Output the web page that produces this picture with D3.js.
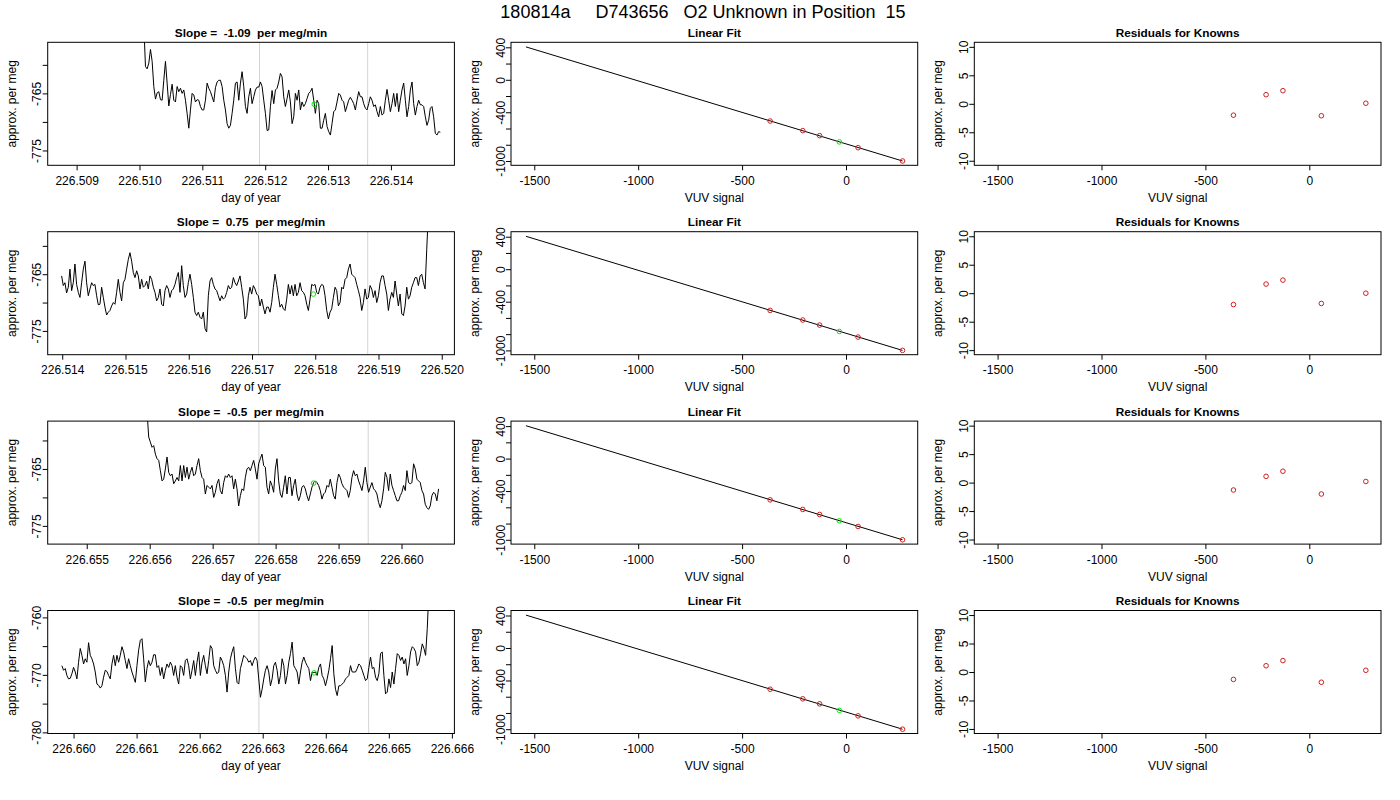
<!DOCTYPE html>
<html>
<head>
<meta charset="utf-8">
<script src="https://cdn.jsdelivr.net/npm/d3@7"></script>
<style>
  body { margin: 0; background: #fff; }
  text { font-family: "Liberation Sans", Arial, Helvetica, sans-serif; white-space: pre; }
</style>
</head>
<body>
<svg id="fig" width="1400" height="800"></svg>
<script>
const mainTitle = "180814a     D743656   O2 Unknown in Position  15";
const slopes = ["-1.09", "0.75", "-0.5", "-0.5"];

// time series (per meg) sampled every dt days from t0
const ts1 = [-753, -760.3, -760.7, -759.7, -757.3, -759.4, -763.8, -766.0, -764.9, -764.7,
  -766.1, -766.2, -762.7, -759.4, -763.2, -767.2, -765.2, -763.4, -766.2, -766.5,
  -763.8, -764.7, -764.1, -765.0, -764.4, -766.2, -768.5, -771.1, -767.9, -765.0,
  -765.3, -766.5, -766.1, -766.2, -767.3, -767.9, -767.9, -766.2, -763.2, -764.1,
  -764.7, -765.6, -766.5, -764.0, -763.0, -762.7, -762.7, -763.8, -766.2, -767.9,
  -770.3, -771.1, -770.6, -768.5, -766.2, -763.2, -763.0, -766.2, -763.2, -761.2,
  -763.8, -767.3, -768.5, -765.6, -764.1, -766.8, -765.6, -764.4, -763.9, -763.9,
  -763.0, -763.8, -766.2, -768.5, -771.5, -771.4, -767.3, -764.5, -766.8, -764.4,
  -764.1, -763.0, -761.5, -762.1, -765.6, -767.3, -765.9, -764.4, -766.5, -770.3,
  -769.1, -765.0, -766.2, -764.4, -767.9, -766.5, -767.3, -766.8, -765.9, -765.0,
  -764.7, -764.1, -766.2, -768.5, -766.2, -766.8, -771.1, -771.1, -769.7, -768.5,
  -770.8, -771.7, -772.3, -770.3, -768.2, -767.9, -766.5, -765.0, -765.3, -766.2,
  -766.5, -768.2, -767.2, -766.2, -765.7, -766.2, -766.8, -767.9, -766.2, -764.7,
  -765.6, -765.6, -766.8, -767.6, -767.9, -766.8, -765.6, -766.2, -767.3, -767.0,
  -768.2, -769.1, -767.3, -768.8, -768.5, -766.2, -764.3, -766.2, -768.2, -766.8,
  -765.0, -767.3, -765.0, -768.2, -766.2, -764.4, -763.2, -766.2, -769.1, -767.3,
  -764.4, -763.0, -766.8, -768.8, -767.3, -766.2, -767.0, -767.0, -767.3, -769.1,
  -770.6, -769.7, -767.6, -767.3, -769.1, -772.0, -772.3, -771.7, -771.8];

const ts2 = [-765.3, -767.0, -766.5, -768.3, -767.3, -764.1, -767.9, -766.5, -763.2, -766.8,
  -768.2, -769.1, -766.5, -764.1, -762.7, -766.5, -768.8, -767.6, -766.5, -767.0,
  -766.8, -768.8, -770.4, -770.3, -767.3, -769.1, -770.8, -772.2, -771.7, -771.4,
  -770.6, -770.0, -770.3, -768.2, -765.9, -768.2, -769.7, -766.5, -765.9, -764.1,
  -762.4, -761.2, -762.7, -764.7, -765.6, -764.4, -765.3, -767.6, -765.9, -767.3,
  -767.0, -766.2, -767.6, -765.3, -765.9, -767.3, -768.2, -769.7, -769.1, -767.6,
  -770.3, -770.6, -767.9, -767.0, -767.6, -769.1, -767.9, -767.6, -766.8, -765.6,
  -764.7, -768.2, -763.5, -767.0, -769.1, -768.5, -766.5, -765.0, -766.8, -769.1,
  -771.7, -772.3, -771.7, -772.6, -772.9, -771.7, -774.6, -775.2, -768.8, -766.2,
  -765.6, -766.8, -767.6, -767.9, -768.8, -769.7, -768.8, -769.4, -769.1, -768.2,
  -767.0, -767.6, -767.3, -765.6, -766.5, -767.0, -766.2, -765.3, -767.3, -769.4,
  -772.9, -772.3, -768.8, -767.3, -768.5, -767.0, -767.6, -768.5, -768.8, -770.6,
  -769.4, -770.8, -772.0, -770.8, -770.8, -771.7, -770.0, -767.3, -765.0, -766.8,
  -768.8, -770.8, -770.3, -771.1, -771.4, -769.4, -766.8, -768.5, -767.0, -768.8,
  -766.8, -768.8, -768.2, -766.5, -767.9, -768.2, -768.8, -770.3, -771.4, -769.4,
  -766.8, -767.0, -766.8, -768.2, -768.5, -767.3, -766.8, -767.0, -768.8, -771.4,
  -772.9, -771.7, -771.1, -769.1, -767.3, -767.9, -770.6, -770.0, -767.3, -767.6,
  -765.9, -765.6, -764.1, -763.2, -765.0, -765.3, -765.6, -766.8, -767.9, -769.1,
  -771.4, -770.0, -767.6, -769.4, -769.1, -767.0, -767.6, -769.1, -767.9, -770.0,
  -768.8, -766.5, -765.3, -765.3, -767.0, -768.5, -771.4, -769.4, -768.2, -769.1,
  -766.2, -768.5, -770.6, -768.5, -772.0, -772.3, -770.6, -767.3, -769.4, -768.8,
  -767.3, -766.5, -765.6, -765.6, -767.0, -765.3, -765.0, -766.5, -767.6, -760.6,
  -754];

const ts3 = [-755, -759.4, -760.3, -761.2, -760.9, -762.4, -763.2, -763.5, -765.3, -767.1,
  -766.8, -765.0, -762.9, -765.6, -766.2, -765.9, -767.6, -767.1, -766.5, -767.1,
  -764.4, -767.1, -764.4, -766.5, -764.7, -766.8, -765.6, -764.7, -766.2, -765.9,
  -764.4, -763.2, -765.3, -766.5, -766.8, -769.4, -767.9, -768.2, -768.5, -767.9,
  -770.0, -769.1, -767.6, -766.8, -768.8, -769.4, -767.4, -766.2, -766.5, -765.9,
  -766.5, -766.2, -768.5, -766.8, -768.5, -771.5, -769.7, -768.5, -768.8, -766.5,
  -765.0, -764.7, -765.3, -764.4, -763.5, -765.0, -766.8, -764.1, -763.2, -762.4,
  -764.4, -764.7, -768.2, -769.4, -767.1, -767.9, -769.1, -765.0, -763.2, -767.1,
  -769.4, -770.0, -768.2, -766.2, -769.4, -766.5, -766.5, -769.7, -767.9, -766.8,
  -769.4, -770.6, -769.7, -768.2, -767.9, -768.5, -769.7, -770.6, -769.4, -768.2,
  -767.4, -767.1, -767.4, -767.9, -768.8, -770.3, -769.4, -769.1, -767.9, -768.2,
  -766.8, -768.2, -769.7, -770.3, -767.4, -765.9, -766.5, -767.6, -768.2, -768.5,
  -768.8, -770.0, -768.8, -766.5, -765.3, -766.2, -765.9, -767.1, -767.9, -768.8,
  -767.1, -764.7, -767.4, -769.1, -768.2, -767.4, -768.5, -768.8, -769.4, -770.9,
  -771.8, -770.6, -768.5, -765.6, -766.5, -768.8, -765.9, -767.9, -768.8, -769.7,
  -770.6, -770.6, -769.7, -769.1, -767.9, -768.8, -765.3, -767.4, -767.6, -767.4,
  -764.1, -765.0, -766.8, -767.1, -767.4, -768.8, -769.4, -771.2, -771.8, -772.1,
  -771.5, -769.7, -769.1, -769.4, -770.6, -768.5];

const ts4 = [-768.4, -769.2, -768.9, -770.1, -770.7, -770.6, -769.8, -768.7, -769.5, -770.7,
  -767.8, -765.4, -766.6, -768.1, -767.2, -767.8, -764.4, -766.6, -767.2, -768.1,
  -769.5, -771.6, -771.8, -772.3, -771.9, -770.4, -769.2, -769.4, -770.1, -770.7,
  -768.1, -766.6, -768.4, -766.6, -767.8, -766.6, -765.1, -766.0, -767.5, -768.9,
  -767.2, -768.4, -769.5, -770.4, -771.3, -768.4, -765.7, -764.0, -763.7, -767.2,
  -771.2, -768.9, -767.5, -768.4, -767.8, -766.5, -766.5, -768.7, -768.4, -770.1,
  -768.7, -770.7, -769.2, -768.1, -768.7, -767.8, -768.4, -770.1, -768.4, -770.4,
  -771.6, -768.4, -768.7, -770.1, -767.5, -767.2, -768.4, -770.7, -769.2, -767.5,
  -770.1, -767.8, -766.0, -770.1, -767.8, -766.6, -768.4, -769.8, -767.5, -764.9,
  -765.4, -768.4, -769.2, -769.8, -769.5, -766.9, -767.5, -768.4, -770.1, -773.0,
  -769.5, -767.2, -766.0, -765.1, -768.9, -771.3, -771.6, -768.9, -767.8, -766.6,
  -766.9, -767.2, -767.8, -767.5, -768.4, -767.5, -766.9, -767.5, -770.7, -773.9,
  -772.5, -770.7, -769.2, -768.4, -769.5, -771.9, -770.7, -768.4, -767.8, -769.2,
  -771.6, -770.1, -767.2, -768.4, -771.6, -770.1, -767.8, -766.3, -764.3, -768.4,
  -768.9, -769.5, -771.6, -769.5, -767.8, -766.9, -767.8, -768.4, -768.9, -771.0,
  -769.5, -769.6, -769.5, -770.1, -768.7, -768.1, -770.1, -770.7, -771.9, -770.7,
  -769.2, -767.2, -764.9, -769.8, -772.5, -773.6, -771.9, -771.9, -771.6, -771.3,
  -770.7, -770.4, -770.1, -768.4, -769.5, -769.5, -769.5, -768.9, -768.1, -768.4,
  -769.2, -770.1, -771.0, -770.7, -768.7, -766.9, -768.9, -768.7, -770.4, -771.0,
  -769.8, -766.3, -766.0, -770.1, -773.3, -773.0, -770.7, -772.2, -769.5, -771.6,
  -768.9, -766.3, -766.6, -767.5, -766.9, -768.1, -767.2, -770.1, -768.4, -766.0,
  -765.1, -765.4, -766.0, -768.4, -767.8, -766.3, -764.6, -765.4, -766.6, -761.9,
  -755];

const tsSeries = [ts1, ts2, ts3, ts4];
const tsStart = [226.510069, 226.51399, 226.655958, 226.659815];
const tsStep = [0.0000265, 0.00002636, 0.00002646, 0.00002646];

// averaging window (gray lines) and the unknown's mean (green point)
const winLo = [226.51191, 226.517105, 226.657735, 226.66294];
const winHi = [226.51363, 226.51883, 226.659471, 226.66468];
const meanT = [226.51278, 226.51797, 226.658603, 226.663815];
const meanV = [-766.9, -768.5, -767.5, -769.65];

// axis ranges and ticks of the time panels
const tsXDom = [[226.50854, 226.51501], [226.51377, 226.52020], [226.65438, 226.66084], [226.65959, 226.66604]];
const tsYDom = [[-777.6, -756.05], [-779.2, -757.5], [-778.2, -756.6], [-780.2, -758.8]];
const tsXTicks = [
  [226.509, 226.510, 226.511, 226.512, 226.513, 226.514],
  [226.514, 226.515, 226.516, 226.517, 226.518, 226.519, 226.520],
  [226.655, 226.656, 226.657, 226.658, 226.659, 226.660],
  [226.660, 226.661, 226.662, 226.663, 226.664, 226.665, 226.666]];
const tsYTicks = [[-775, -770, -765, -760], [-775, -770, -765, -760], [-775, -770, -765, -760], [-780, -775, -770, -765, -760]];
const tsYLabels = [[-775, -765], [-775, -765], [-775, -765], [-780, -770, -760]];

// linear fit of the knowns
const knownX = [-365, -208, -127, 58, 272];
const knownY = [-508, -626, -688, -836, -1000];
const fitLineX = [-1540, 272];
const fitLineY = [405, -1000];
const unknownX = [-32, -32, -32, -32];
const unknownY = [-765, -767, -766, -768];
const fitXDom = [-1612, 345];
const fitYDom = [-1053, 461.7];
const fitXTicks = [-1500, -1000, -500, 0];
const fitYTicks = [-1000, -800, -600, -400, -200, 0, 200, 400];
const fitYLabels = [-1000, -400, 0, 400];

// residuals of the knowns, one row per run
const residuals = [
  [-2.0, 1.6, 2.3, -2.1, 0.1],
  [-2.0, 1.6, 2.3, -1.8, 0.0],
  [-1.3, 1.1, 2.0, -2.0, 0.2],
  [-1.3, 1.1, 2.0, -1.8, 0.3]];
const resYDom = [-10.8, 10.8];
const resYTicks = [-10, -5, 0, 5, 10];

const svg = d3.select("#fig");
svg.append("rect").attr("width", 1400).attr("height", 800).attr("fill", "#fff");

const colLeft = [47.7, 511, 974.3], boxW = 406.7, boxH = 123;
const rowTop = [42.3, 231.7, 421.1, 610.5];
const FS = "12px";

// plain hyphen minus, as in the original
const intFmt = d => String(d);
const dayFmt = d => d.toFixed(3);

svg.append("text")
  .attr("x", 703).attr("y", 17.5)
  .attr("text-anchor", "middle")
  .style("font-size", "18px")
  .text(mainTitle);

let clipId = 0;

// box, axes and labels of one panel
function panel(r, c, x, y, opt) {
  const g = svg.append("g").attr("transform", `translate(${colLeft[c]},${rowTop[r]})`);
  const id = "clip" + (clipId++);
  g.append("clipPath").attr("id", id)
    .append("rect").attr("width", boxW).attr("height", boxH);
  const plot = g.append("g").attr("clip-path", `url(#${id})`);

  const xa = g.append("g")
    .attr("transform", `translate(0,${boxH})`)
    .call(d3.axisBottom(x).tickValues(opt.xTicks).tickFormat(opt.xFmt).tickSize(5).tickPadding(6));
  xa.select(".domain").remove();
  xa.attr("font-family", null).attr("font-size", null);
  xa.selectAll("text").style("font-size", FS).attr("fill", "#000");

  const ya = g.append("g")
    .call(d3.axisLeft(y).tickValues(opt.yTicks).tickSize(5)
      .tickFormat(d => opt.yLabels.includes(d) ? intFmt(d) : ""));
  ya.select(".domain").remove();
  ya.attr("font-family", null).attr("font-size", null);
  ya.selectAll("text")
    .attr("x", 0).attr("y", -6.5).attr("dy", null)
    .attr("transform", "rotate(-90)")
    .attr("text-anchor", "middle")
    .attr("fill", "#000")
    .style("font-size", FS);

  g.append("rect")
    .attr("width", boxW).attr("height", boxH)
    .attr("fill", "none").attr("stroke", "#000").attr("stroke-width", 1);

  g.append("text")
    .attr("x", boxW / 2).attr("y", -5.6)
    .attr("text-anchor", "middle")
    .style("font-size", "11.8px").style("font-weight", "bold")
    .text(opt.title);

  g.append("text")
    .attr("x", boxW / 2).attr("y", boxH + 36.5)
    .attr("text-anchor", "middle")
    .style("font-size", FS)
    .text(opt.xLabel);

  g.append("text")
    .attr("transform", `translate(-32,${boxH / 2}) rotate(-90)`)
    .attr("text-anchor", "middle")
    .style("font-size", FS)
    .text("approx. per meg");

  return plot;
}

for (let r = 0; r < 4; r++) {
  // time series panel
  const x = d3.scaleLinear().domain(tsXDom[r]).range([0, boxW]);
  const y = d3.scaleLinear().domain(tsYDom[r]).range([boxH, 0]);
  const p = panel(r, 0, x, y, {
    xTicks: tsXTicks[r], xFmt: dayFmt,
    yTicks: tsYTicks[r], yLabels: tsYLabels[r],
    title: "Slope =  " + slopes[r] + "  per meg/min",
    xLabel: "day of year"
  });
  [winLo[r], winHi[r]].forEach(t => {
    p.append("line")
      .attr("x1", x(t)).attr("x2", x(t))
      .attr("y1", 0).attr("y2", boxH)
      .attr("stroke", "#d3d3d3").attr("stroke-width", 1);
  });
  const line = d3.line()
    .x((d, i) => x(tsStart[r] + i * tsStep[r]))
    .y(d => y(d));
  p.append("path")
    .datum(tsSeries[r])
    .attr("fill", "none")
    .attr("stroke", "#000")
    .attr("stroke-width", 1)
    .attr("d", line);
  p.append("circle")
    .attr("cx", x(meanT[r])).attr("cy", y(meanV[r])).attr("r", 2.3)
    .attr("fill", "none").attr("stroke", "#00ee00").attr("stroke-width", 1);

  // linear fit panel
  const fx = d3.scaleLinear().domain(fitXDom).range([0, boxW]);
  const fy = d3.scaleLinear().domain(fitYDom).range([boxH, 0]);
  const q = panel(r, 1, fx, fy, {
    xTicks: fitXTicks, xFmt: intFmt,
    yTicks: fitYTicks, yLabels: fitYLabels,
    title: "Linear Fit", xLabel: "VUV signal"
  });
  q.append("line")
    .attr("x1", fx(fitLineX[0])).attr("y1", fy(fitLineY[0]))
    .attr("x2", fx(fitLineX[1])).attr("y2", fy(fitLineY[1]))
    .attr("stroke", "#000").attr("stroke-width", 1);
  q.selectAll(".known")
    .data(knownX)
    .enter().append("circle")
    .attr("cx", d => fx(d))
    .attr("cy", (d, i) => fy(knownY[i]))
    .attr("r", 2.3)
    .attr("fill", "none").attr("stroke", "#d02020").attr("stroke-width", 1);
  q.append("circle")
    .attr("cx", fx(unknownX[r])).attr("cy", fy(unknownY[r])).attr("r", 2.3)
    .attr("fill", "none").attr("stroke", "#00ee00").attr("stroke-width", 1);

  // residuals panel
  const ry = d3.scaleLinear().domain(resYDom).range([boxH, 0]);
  const s = panel(r, 2, fx, ry, {
    xTicks: fitXTicks, xFmt: intFmt,
    yTicks: resYTicks, yLabels: resYTicks,
    title: "Residuals for Knowns", xLabel: "VUV signal"
  });
  s.selectAll(".res")
    .data(residuals[r])
    .enter().append("circle")
    .attr("cx", (d, i) => fx(knownX[i]))
    .attr("cy", d => ry(d))
    .attr("r", 2.3)
    .attr("fill", "none").attr("stroke", "#d02020").attr("stroke-width", 1);
}
</script>
</body>
</html>
